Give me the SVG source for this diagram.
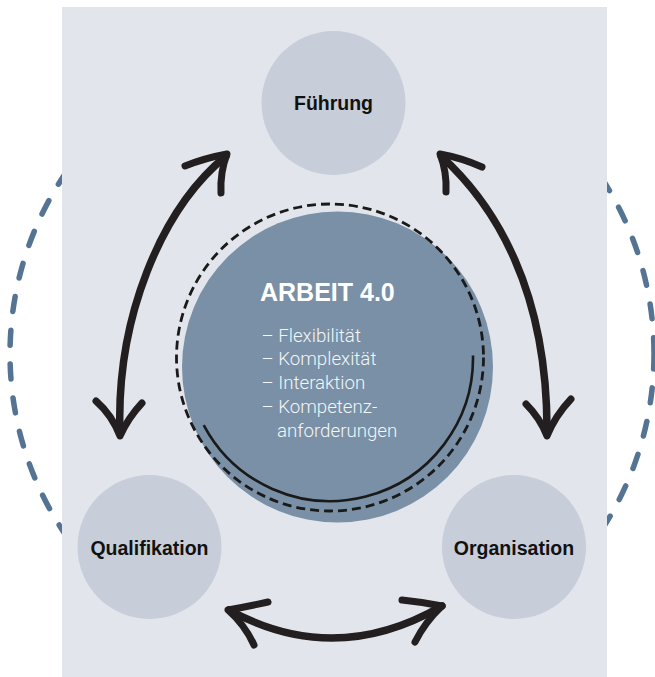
<svg xmlns="http://www.w3.org/2000/svg" width="655" height="677" viewBox="0 0 655 677">
<style>
.node{fill:#c7cdd9}
.lbl{font-family:"Liberation Sans",Arial,sans-serif;font-weight:bold;font-size:19.5px;fill:#111;text-anchor:middle}
.arr{fill:none;stroke:#231f20;stroke-width:7;stroke-linecap:round;stroke-linejoin:round}
.shaft{stroke-width:7.5}
.list{font-family:Roboto,"Liberation Sans",sans-serif;font-weight:300;font-size:18.7px;fill:#f4f6f8}
</style>
<rect width="655" height="677" fill="#ffffff"/>
<circle cx="332" cy="354" r="322" fill="none" stroke="#557493" stroke-width="5.5" stroke-dasharray="15 19" stroke-linecap="round"/>
<rect x="62" y="7" width="545" height="670" fill="#e2e5eb"/>
<g id="arbeit">
<circle cx="337.5" cy="367" r="155.5" fill="#7990a6"/>
<circle cx="330" cy="357.5" r="153.5" fill="none" stroke="#1a1a1a" stroke-width="2.8" stroke-dasharray="9 5"/>
<path d="M203.7,425.1 A143 143 0 0 0 473,355.5" fill="none" stroke="#1a1a1a" stroke-width="2.6"/>
<text x="260" y="301" font-family="'Liberation Sans',Arial,sans-serif" font-weight="bold" font-size="25" fill="#ffffff">ARBEIT 4.0</text>
<text class="list" x="261.5" y="341.7">– Flexibilität</text>
<text class="list" x="261.5" y="365.4">– Komplexität</text>
<text class="list" x="261.5" y="389.1">– Interaktion</text>
<text class="list" x="261.5" y="412.8">– Kompetenz-</text>
<text class="list" x="277" y="436.5">anforderungen</text>
</g>
<g id="fuehrung">
<circle class="node" cx="333.5" cy="103" r="72"/>
<text class="lbl" x="333.5" y="110">Führung</text>
</g>
<g id="qualifikation">
<circle class="node" cx="149.5" cy="547" r="72"/>
<text class="lbl" x="149.5" y="555">Qualifikation</text>
</g>
<g id="organisation">
<circle class="node" cx="514" cy="547" r="72"/>
<text class="lbl" x="514" y="555">Organisation</text>
</g>
<g id="connectors">
<path class="arr shaft" d="M226,156 C160,210 116,320 120,433"/>
<path class="arr" d="M185,166 Q205,158 227,154 Q220,172 221,193"/>
<path class="arr" d="M96,401 Q112,415 120,436 Q128,418 142,403"/>
<path class="arr shaft" d="M441,156 C495,205 548,290 547,434"/>
<path class="arr" d="M482,167 Q462,158 440,154 Q447,172 446,192"/>
<path class="arr" d="M526,404 Q540,418 547,436 Q555,416 571,399"/>
<path class="arr shaft" d="M229,610 Q335,668 442,606"/>
<path class="arr" d="M268,602 Q250,606 228,610 Q245,625 254,645"/>
<path class="arr" d="M402,600 Q422,602 442,606 Q425,622 415,642"/>
</g>
</svg>
